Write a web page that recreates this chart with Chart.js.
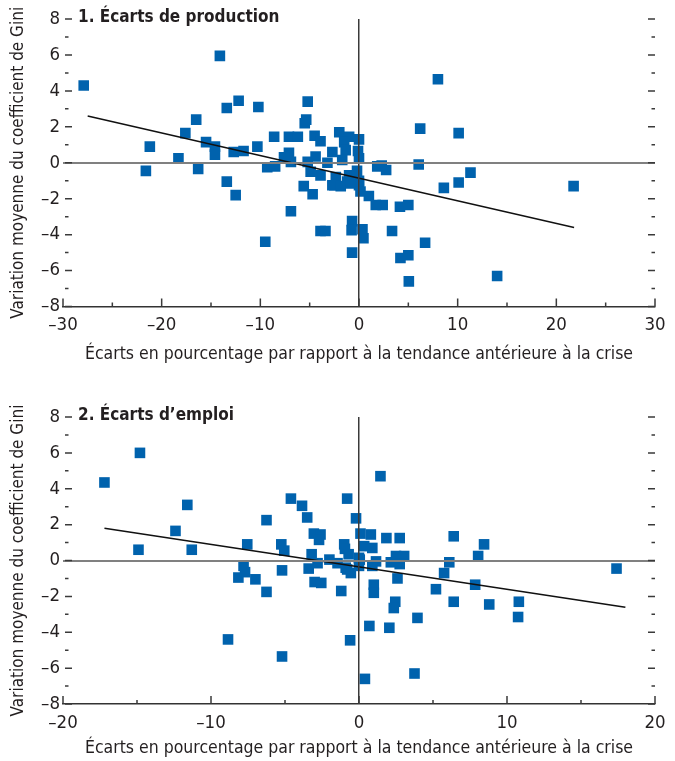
<!DOCTYPE html>
<html>
<head>
<meta charset="utf-8">
<script src="https://cdn.jsdelivr.net/npm/chart.js@4.4.1/dist/chart.umd.min.js"></script>
<style>
  body { margin: 0; background: #fff; }
  canvas { position: absolute; left: 0; }
  #chart1 { top: 0; }
  #chart2 { top: 380px; }
</style>
</head>
<body>
<canvas id="chart1" width="675" height="380"></canvas>
<canvas id="chart2" width="675" height="381"></canvas>
<script>
// 1. Écarts de production
const outputGapX = [-27.9, -14.1, -21.2, -21.6, -18.3, -17.6, -16.5, -16.3, -15.5, -14.6, -14.6, -13.4, -12.2, -13.4, -12.5, -12.7, -11.7, -10.2, -10.3, -9.5,
  -9.3, -8.5, -5.2, -5.5, -5.35, -8.6, -7.1, -6.2, -4.5, -3.9, -2.0, -1.0, 0, -1.5, -2.7, -1.35, -0.1, -7.1, -4.4, -1.7,
  0, -7.6, -6.9, -5.2, -3.2, -4.9, -3.9, -2.35, -1.0, -0.2, -2.7, -1.2, 0, 0, -5.6, -4.7, -2.5, -1.85, -0.85, 0.15,
  1.0, 2.4, 1.7, -6.9, -3.9, -3.4, -0.7, -0.75, 0.35, 0.45, -0.7, 1.85, 2.3, 2.75, 6.05, 11.3, 10.1, 8.6, 4.15, 5.0,
  3.35, 6.7, 8.0, 6.2, 10.1, 21.75, 14.0, 5.05, 4.2, 5.0];
const outputGapY = [4.3, 5.95, 0.9, -0.45, 0.25, 1.65, 2.4, -0.35, 1.15, 0.9, 0.45, 3.05, 3.45, -1.05, -1.8, 0.6, 0.65, 3.1, 0.9, -4.4,
  -0.25, -0.2, 3.4, 2.2, 2.4, 1.45, 1.45, 1.45, 1.5, 1.2, 1.7, 1.45, 1.3, 1.15, 0.6, 0.7, 0.65, 0.55, 0.35, 0.15,
  0.25, 0.3, 0.05, 0.05, 0, -0.5, -0.7, -0.8, -0.7, -0.45, -1.25, -1.05, -1.0, -1.25, -1.3, -1.75, -1.25, -1.3, -1.15, -1.6,
  -1.85, -2.35, -2.35, -2.7, -3.8, -3.8, -3.25, -3.75, -3.7, -4.2, -5.0, -0.2, -0.15, -0.4, -0.1, -0.55, -1.1, -1.4, -2.45, -2.35,
  -3.8, -4.45, 4.65, 1.9, 1.65, -1.3, -6.3, -6.6, -5.3, -5.15];
const outputTrendX = [-27.5, 21.8];
const outputTrendY = [2.6, -3.6];

// 2. Écarts d'emploi
const employmentGapX = [-17.2, -14.8, -14.9, -12.4, -11.6, -11.3, -8.85, -8.15, -7.8, -7.7, -7.55, -7.0, -6.25, -6.25, -5.2, -5.2, -5.25, -5.05, -4.6, -3.85,
  -3.5, -3.05, -2.6, -2.7, -3.2, -2.8, -3.4, -3.0, -2.55, -2.0, -1.45, -1.2, -0.8, -1.0, -0.95, -0.7, -0.8, -0.55, -0.2, -0.6,
  0, 1.45, 0.1, 0.8, 1.85, 2.75, 6.4, 8.45, 8.05, 6.1, 5.75, 7.85, 5.2, 6.4, 8.8, 10.8, 10.75, 17.4, 0.35, 0.9,
  0.05, 1.15, 0.9, 0, -0.9, 2.15, 2.5, 3.05, 2.75, 2.6, 1.0, 1.0, 2.45, 2.35, 3.95, 0.7, 2.05, 3.75, 0.4];
const employmentGapY = [4.35, 6.0, 0.6, 1.65, 3.1, 0.6, -4.4, -0.95, -0.3, -0.65, 0.9, -1.05, -1.75, 2.25, -5.35, -0.55, 0.9, 0.55, 3.45, 3.05,
  2.4, 1.5, 1.45, 1.15, 0.35, -0.15, -0.45, -1.2, -1.25, 0.05, -0.15, -1.7, 3.45, 0.9, 0.65, 0.35, -0.5, -0.7, 2.35, -4.45,
  0.15, 4.7, 1.5, 1.45, 1.25, 1.25, 1.35, 0.9, 0.25, -0.1, -0.7, -1.35, -1.6, -2.3, -2.45, -2.3, -3.15, -0.45, 0.8, 0.7,
  0.05, -0.05, -0.3, -0.3, -0.4, -0.1, 0.25, 0.25, -0.2, -1.0, -1.35, -1.8, -2.3, -2.65, -3.2, -3.65, -3.75, -6.3, -6.6];
const employmentTrendX = [-17.2, 18.0];
const employmentTrendY = [1.8, -2.6];

const FONT = "'DejaVu Sans Condensed', 'Liberation Sans Narrow', sans-serif";
const BLUE = '#0062ad';
const INK = '#231f20';

const fmt = v => v < 0 ? '\u2013' + Math.abs(v) : String(v);
const toPoints = (xs, ys) => xs.map((v, i) => ({ x: v, y: ys[i] }));

// inward tick marks on both sides + bottom, and the panel title
const frameMarks = {
  id: 'frameMarks',
  afterDraw(chart, args, opts) {
    const { ctx, chartArea: a, scales: { x, y } } = chart;
    ctx.save();
    ctx.strokeStyle = '#3a3a3a';
    ctx.lineWidth = 1.5;
    ctx.beginPath();
    for (let v = y.min; v <= y.max; v++) {
      const py = y.getPixelForValue(v);
      const len = v % 2 === 0 ? 7 : 3.5;
      ctx.moveTo(a.left + 2, py); ctx.lineTo(a.left + 2 + len, py);
      ctx.moveTo(a.right - len, py); ctx.lineTo(a.right, py);
    }
    for (let v = x.min; v <= x.max; v += 5) {
      const px = x.getPixelForValue(v);
      const len = v % 10 === 0 ? 8 : 4;
      ctx.moveTo(px, a.bottom); ctx.lineTo(px, a.bottom - len);
    }
    ctx.stroke();
    ctx.font = 'bold 17px ' + FONT;
    ctx.fillStyle = INK;
    ctx.textBaseline = 'middle';
    ctx.fillText(opts.text, a.left + 15, a.top - 1);
    ctx.restore();
  }
};

function makeChart(id, cfg) {
  return new Chart(document.getElementById(id), {
    type: 'scatter',
    data: {
      datasets: [{
        data: toPoints(cfg.trendX, cfg.trendY),
        showLine: true,
        borderColor: '#111',
        borderWidth: 1.5,
        pointRadius: 0
      }, {
        data: toPoints(cfg.xs, cfg.ys),
        pointStyle: 'rect',
        pointRadius: 7.5,
        backgroundColor: BLUE,
        borderWidth: 0
      }]
    },
    options: {
      responsive: false,
      animation: false,
      layout: { padding: { top: cfg.padTop, right: 20, left: 0, bottom: 0 } },
      plugins: {
        legend: { display: false },
        tooltip: { enabled: false },
        frameMarks: { text: cfg.title }
      },
      scales: {
        x: {
          min: cfg.xmin,
          max: cfg.xmax,
          ticks: { stepSize: 10, callback: fmt, color: INK, padding: 8, maxRotation: 0, font: { family: FONT, size: 18.5 } },
          grid: { color: c => c.tick && c.tick.value === 0 ? '#3a3a3a' : 'rgba(0,0,0,0)', lineWidth: 1.5, drawTicks: false, z: 1 },
          border: { display: true, color: '#333', width: 1.5, z: 1 },
          title: { display: true, text: 'Écarts en pourcentage par rapport à la tendance antérieure à la crise', color: INK,
                   font: { family: FONT, size: 17.5 }, padding: { top: 0, bottom: cfg.titlePad } },
          afterFit: s => { s.height = cfg.axisHeight; }
        },
        y: {
          min: -8,
          max: 8,
          ticks: { stepSize: 2, callback: fmt, color: INK, padding: 3, font: { family: FONT, size: 18.5 } },
          grid: { color: c => c.tick && c.tick.value === 0 ? '#808080' : 'rgba(0,0,0,0)', lineWidth: 2, drawTicks: false, z: 1 },
          border: { display: false },
          title: { display: true, text: 'Variation moyenne du coefficient de Gini', color: INK,
                   font: { family: FONT, size: 17 }, padding: { top: 8, bottom: 0 } },
          afterFit: s => { s.width = 63; }
        }
      }
    },
    plugins: [frameMarks]
  });
}

makeChart('chart1', {
  xs: outputGapX, ys: outputGapY, trendX: outputTrendX, trendY: outputTrendY,
  xmin: -30, xmax: 30, padTop: 19, axisHeight: 73.5, titlePad: 15.5,
  title: '1. Écarts de production'
});

makeChart('chart2', {
  xs: employmentGapX, ys: employmentGapY, trendX: employmentTrendX, trendY: employmentTrendY,
  xmin: -20, xmax: 20, padTop: 37, axisHeight: 57, titlePad: 2.5,
  title: '2. Écarts d\u2019emploi'
});
</script>
</body>
</html>
